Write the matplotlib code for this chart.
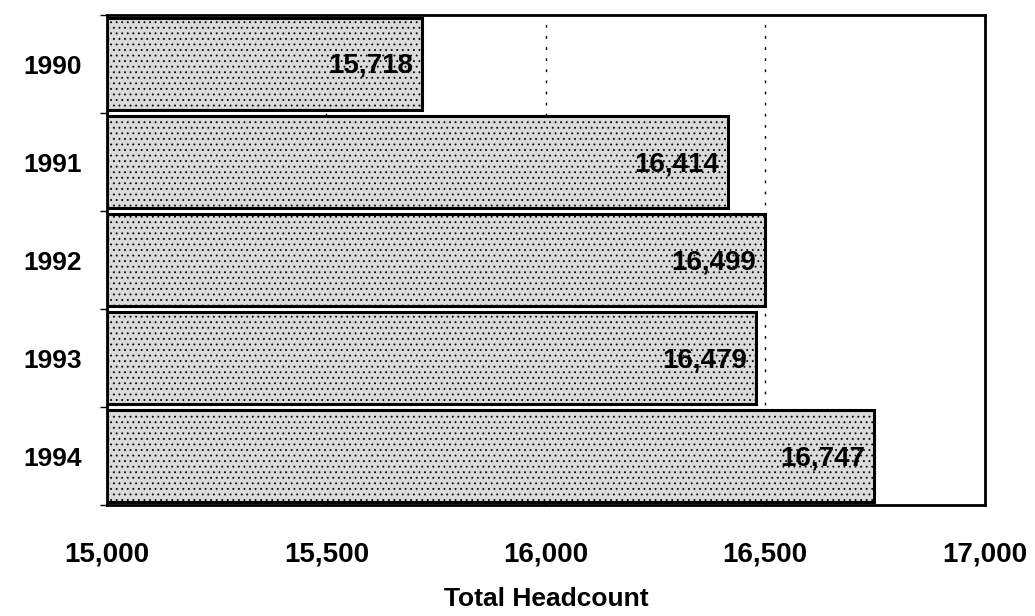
import matplotlib
matplotlib.use('Agg')
import matplotlib.pyplot as plt
import numpy as np

# data
years = ['1990', '1991', '1992', '1993', '1994']
headcount = [15718, 16414, 16499, 16479, 16747]
xticks = [15000, 15500, 16000, 16500, 17000]

plt.rcParams['font.family'] = ['Liberation Sans', 'DejaVu Sans']
plt.rcParams['hatch.color'] = '#9a9a9a'
plt.rcParams['hatch.linewidth'] = 0.6

fig = plt.figure(figsize=(10.35, 6.16), dpi=100)
ax = fig.add_axes([0.1034, 0.180, 0.848, 0.7956])

ypos = np.arange(len(years))
bars = ax.barh(ypos, [v - xticks[0] for v in headcount], left=xticks[0],
               height=0.94, color='#dadada', edgecolor='black',
               linewidth=2.2, hatch='...', zorder=3)

for y, v in zip(ypos, headcount):
    ax.text(v - 20, y + 0.02, f'{v:,}', ha='right', va='center',
            fontsize=20, fontweight='bold', color='black', zorder=4)

ax.set_xlim(xticks[0], xticks[-1])
ax.set_ylim(len(years) - 0.5, -0.5)
ax.set_xticks(xticks)
ax.set_xticklabels([f'{t:,}' for t in xticks], fontsize=20, fontweight='bold')
ax.tick_params(axis='x', length=0, pad=26)
ax.set_yticks(ypos)
ax.set_yticklabels(years, fontsize=19, fontweight='bold')
ax.tick_params(axis='y', which='major', length=0, pad=18)
ax.set_yticks(np.arange(-0.5, len(years)), minor=True)
ax.tick_params(axis='y', which='minor', length=5, width=1)

ax.grid(axis='x', linestyle=(0, (2, 6)), color='black', linewidth=1, zorder=0)
for s in ax.spines.values():
    s.set_linewidth(2)

ax.set_xlabel('Total Headcount', fontsize=19, fontweight='bold', labelpad=14)

fig.savefig('out.png', dpi=100, facecolor='white')
